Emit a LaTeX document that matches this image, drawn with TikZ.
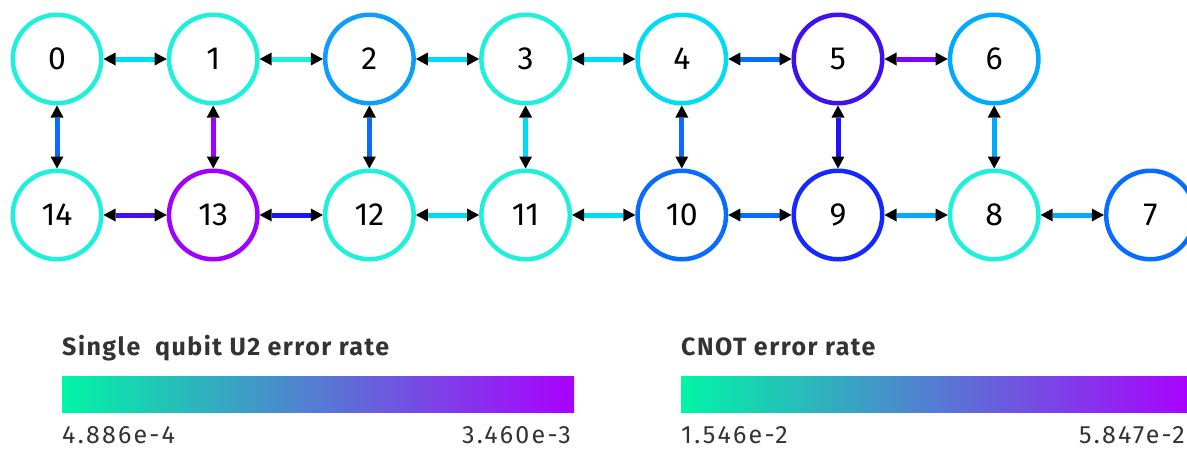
\documentclass[tikz,border=0pt]{standalone}
\usepackage{fontspec}
\setmainfont{Fira Sans}
\usetikzlibrary{arrows.meta}
\usetikzlibrary{positioning}
\definecolor{turq}{RGB}{30,240,220}
\definecolor{cyanq}{RGB}{0,220,245}
\definecolor{skyq}{RGB}{0,170,255}
\definecolor{skyqq}{RGB}{12,158,250}
\definecolor{blueq}{RGB}{10,108,255}
\definecolor{royalq}{RGB}{20,40,255}
\definecolor{deepq}{RGB}{30,20,250}
\definecolor{indigoq}{RGB}{64,16,240}
\definecolor{violetq}{RGB}{128,0,255}
\definecolor{purpleq}{RGB}{160,0,255}
\definecolor{barlow}{RGB}{0,245,165}
\definecolor{barhigh}{RGB}{170,0,255}
\definecolor{legendtext}{RGB}{51,51,51}
\tikzset{
    qubit/.style={circle,draw=#1,line width=4.5pt,minimum size=88.5pt,inner sep=0pt,
        font=\fontsize{32}{36}\selectfont},
    link/.style={draw=#1,line width=5pt,
        {Triangle[length=12pt,width=13pt,line width=0pt,color=black]}-{Triangle[length=12pt,width=13pt,line width=0pt,color=black]}},
    colorbar/.style={left color=barlow,right color=barhigh,minimum width=512pt,minimum height=36pt,
        inner sep=0pt,anchor=north west},
    legendtitle/.style={anchor=base west,inner sep=0pt,text=legendtext,
        font=\fontsize{25}{30}\selectfont\bfseries\addfontfeature{LetterSpace=6}},
    legendlabel/.style={inner sep=0pt,text=legendtext,
        font=\fontsize{25}{30}\selectfont\addfontfeature{LetterSpace=9}}
}

\begin{document}
\begin{tikzpicture}[x=1pt,y=-1pt]
            \useasboundingbox (0,0) rectangle (1187,448);

            \node[qubit=turq] (q0) at (57,59) {0};
            \node[qubit=turq] (q1) at (213.2,59) {1};
            \node[qubit=skyqq] (q2) at (369.4,59) {2};
            \node[qubit=turq] (q3) at (525.6,59) {3};
            \node[qubit=cyanq] (q4) at (681.8,59) {4};
            \node[qubit=indigoq] (q5) at (838,59) {5};
            \node[qubit=skyq] (q6) at (994.2,59) {6};

            \node[qubit=turq] (q14) at (57,215) {14};
            \node[qubit=purpleq] (q13) at (213.2,215) {13};
            \node[qubit=turq] (q12) at (369.4,215) {12};
            \node[qubit=turq] (q11) at (525.6,215) {11};
            \node[qubit=blueq] (q10) at (681.8,215) {10};
            \node[qubit=royalq] (q9) at (838,215) {9};
            \node[qubit=turq] (q8) at (994.2,215) {8};
            \node[qubit=blueq] (q7) at (1150.4,215) {7};

            \draw[link=cyanq] (q0) -- (q1);
            \draw[link=turq] (q1) -- (q2);
            \draw[link=cyanq] (q2) -- (q3);
            \draw[link=cyanq] (q3) -- (q4);
            \draw[link=blueq] (q4) -- (q5);
            \draw[link=violetq] (q5) -- (q6);

            \draw[link=blueq] (q0) -- (q14);
            \draw[link=purpleq] (q1) -- (q13);
            \draw[link=blueq] (q2) -- (q12);
            \draw[link=cyanq] (q3) -- (q11);
            \draw[link=blueq] (q4) -- (q10);
            \draw[link=deepq] (q5) -- (q9);
            \draw[link=skyq] (q6) -- (q8);

            \draw[link=indigoq] (q14) -- (q13);
            \draw[link=deepq] (q13) -- (q12);
            \draw[link=cyanq] (q12) -- (q11);
            \draw[link=cyanq] (q11) -- (q10);
            \draw[link=blueq] (q10) -- (q9);
            \draw[link=skyq] (q9) -- (q8);
            \draw[link=skyq] (q8) -- (q7);

            \node[colorbar] (u2bar) at (62,376) {};
            \node[legendtitle] (u2title) at (62,355) {Single\ \ qubit U2 error rate};
            \node[legendlabel,anchor=base west] (u2low) at (62,443) {4.886e-4};
            \node[legendlabel,anchor=base east] (u2high) at (571,443) {3.460e-3};

            \node[colorbar] (cxbar) at (681,376) {};
            \node[legendtitle] (cxtitle) at (681,355) {CNOT error rate};
            \node[legendlabel,anchor=base west] (cxlow) at (681,443) {1.546e-2};
            \node[legendlabel,anchor=base east] (cxhigh) at (1185,443) {5.847e-2};
        \end{tikzpicture}
\end{document}
